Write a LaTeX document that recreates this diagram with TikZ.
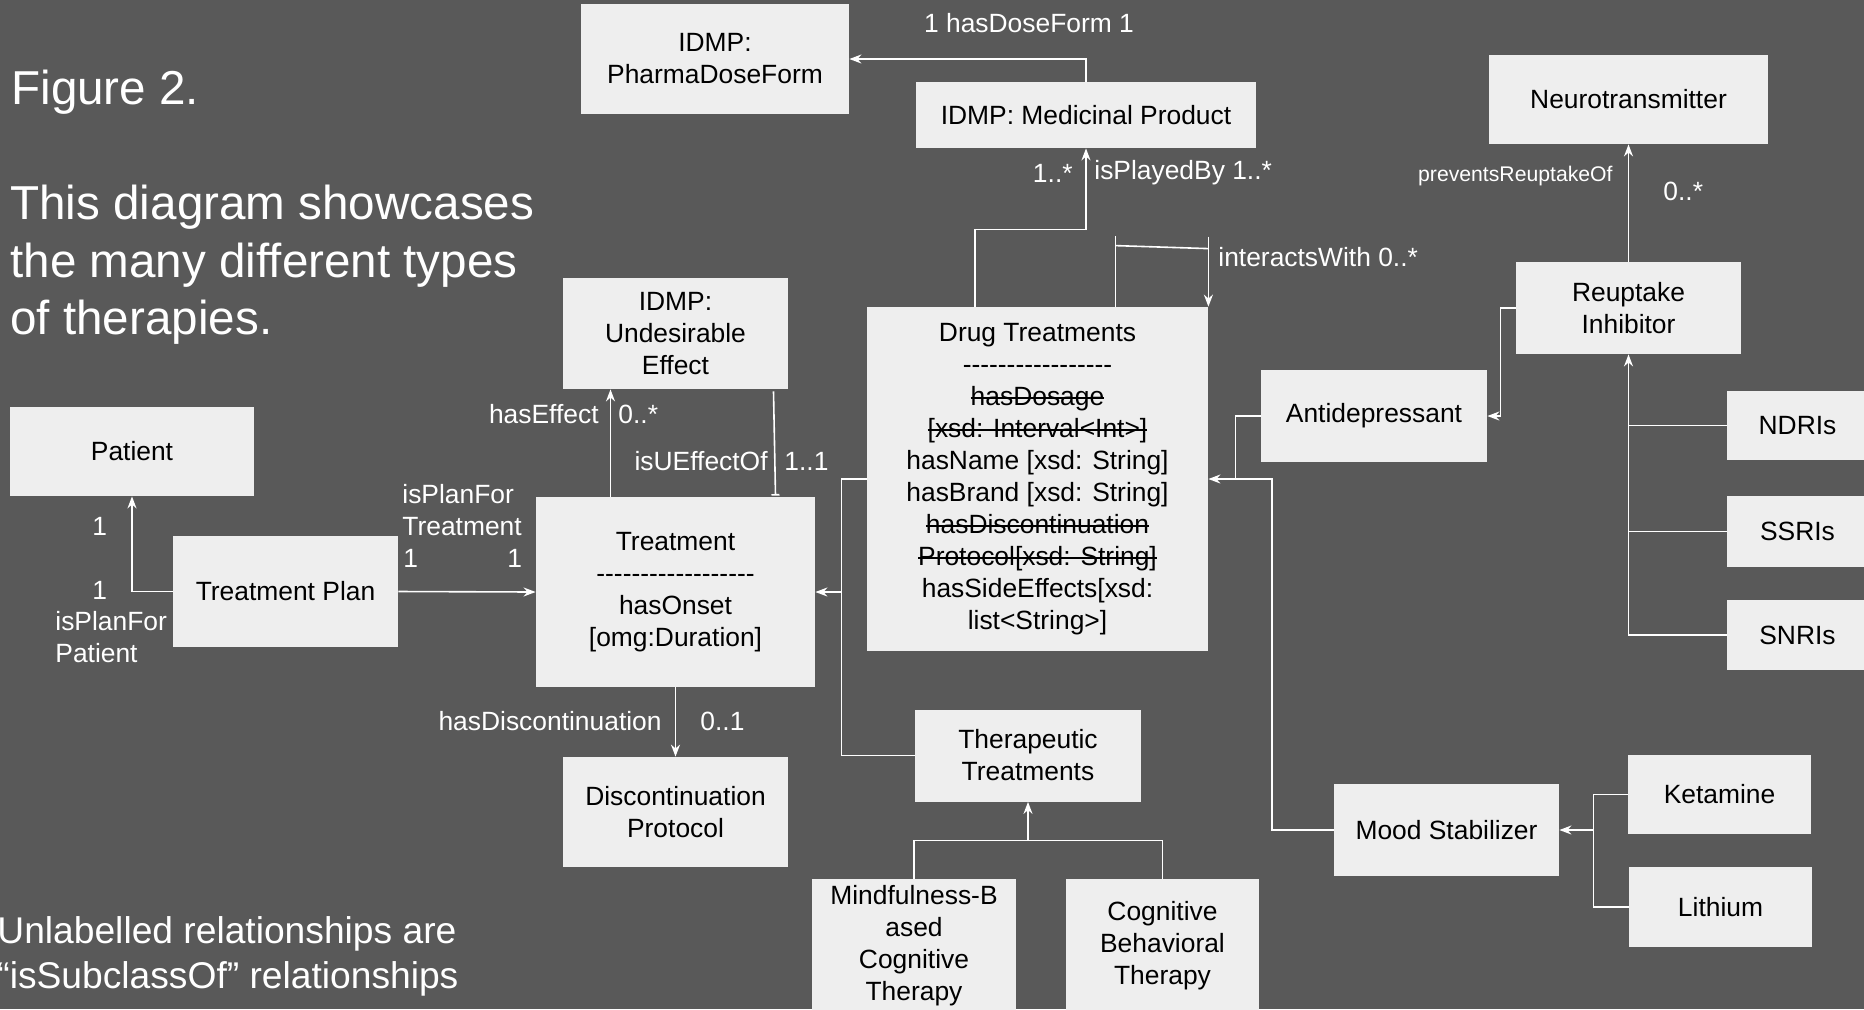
\documentclass[tikz,border=0pt]{standalone}
\usepackage{fontspec}
\setmainfont{Liberation Sans}[Ligatures=TeXOff]
\usetikzlibrary{arrows.meta,calc}
\definecolor{bggray}{HTML}{595959}
\definecolor{boxgray}{HTML}{EEEEEE}
\newcommand{\boxfont}{\fontsize{13.2}{16}\selectfont}
\newcommand{\smallfont}{\fontsize{10.6}{12}\selectfont}
\newcommand{\bigfont}{\fontsize{23.8}{28.75}\selectfont}
\newcommand{\notefont}{\fontsize{18.6}{22.5}\selectfont}
\newcommand{\strike}[1]{\setbox0\hbox{#1}\rlap{\rule[0.25em]{\wd0}{0.9pt}}\box0}
\tikzset{
  >={Stealth[length=6pt,width=4.5pt]},
}
\tikzstyle{umlbox}=[fill=boxgray,text=black,align=center,inner sep=0pt]
\tikzstyle{rel}=[text=white,inner sep=0pt]
\tikzstyle{wire}=[white,line width=0.8pt]
\tikzstyle{assoc}=[wire,->]
\tikzstyle{every node}=[font=\boxfont]

\begin{document}
\begin{tikzpicture}[x=0.5pt,y=-0.5pt]
    \clip (0,0) rectangle (1864,1009);
    \fill[bggray] (0,0) rectangle (1864,1009);

    % free text
    \node[rel,anchor=west,font=\bigfont] (title) at (11,92) {Figure 2.};
    \node[rel,anchor=west,align=left,font=\bigfont] (intro) at (10,265)
    {This diagram showcases\\the many different types\\of therapies.};
    \node[rel,anchor=west,align=left,font=\notefont] (note) at (-3,956)
    {Unlabelled relationships are\\“isSubclassOf” relationships};

    % classes
    \node[umlbox,minimum width=134pt,minimum height=55pt] (pdf) at (715,59) {IDMP:\\PharmaDoseForm};
    \node[umlbox,minimum width=170pt,minimum height=33pt] (mp) at (1086,115) {IDMP: Medicinal Product};
    \node[umlbox,minimum width=139.5pt,minimum height=44.5pt] (nt) at (1628.5,99.5) {Neurotransmitter};
    \node[umlbox,minimum width=112.5pt,minimum height=46pt] (ri) at (1628.5,308) {Reuptake\\Inhibitor};
    \node[umlbox,minimum width=113pt,minimum height=46pt] (ad) at (1374,416) {Antidepressant};
    \node[umlbox,minimum width=70.5pt,minimum height=34.5pt] (ndri) at (1797.5,425.5) {NDRIs};
    \node[umlbox,minimum width=70.5pt,minimum height=35.5pt] (ssri) at (1797.5,531.5) {SSRIs};
    \node[umlbox,minimum width=70.5pt,minimum height=35pt] (snri) at (1797.5,635) {SNRIs};
    \node[umlbox,minimum width=170.5pt,minimum height=172pt] (dt) at (1037.5,479)
    {Drug Treatments\\-----------------\\\strike{hasDosage}\\\strike{[xsd: Interval<Int>]}\\
    hasName [xsd: String]\\hasBrand [xsd: String]\\\strike{hasDiscontinuation}\\
    \strike{Protocol[xsd: String]}\\hasSideEffects[xsd:\\list<String>]};
    \node[umlbox,minimum width=112.5pt,minimum height=55.5pt] (ue) at (675.5,333.5) {IDMP:\\Undesirable\\Effect};
    \node[umlbox,minimum width=122pt,minimum height=44.5pt] (pat) at (132,451.5) {Patient};
    \node[umlbox,minimum width=112.5pt,minimum height=55.5pt] (tp) at (285.5,591.5) {Treatment Plan};
    \node[umlbox,minimum width=139.5pt,minimum height=95pt] (tr) at (675.5,592)
    {Treatment\\------------------\\hasOnset\\{}[omg:Duration]};
    \node[umlbox,minimum width=112.5pt,minimum height=55pt] (dp) at (675.5,812) {Discontinuation\\Protocol};
    \node[umlbox,minimum width=113pt,minimum height=46pt] (tt) at (1028,755.5) {Therapeutic\\Treatments};
    \node[umlbox,minimum width=112.5pt,minimum height=46pt] (ms) at (1446.5,830) {Mood Stabilizer};
    \node[umlbox,minimum width=91.5pt,minimum height=39.5pt] (ket) at (1719.5,794.5) {Ketamine};
    \node[umlbox,minimum width=91.5pt,minimum height=40pt] (lith) at (1720.5,907) {Lithium};
    \node[umlbox,minimum width=102pt,minimum height=67pt] (mbct) at (914,946)
    {Mindfulness-B\\ased\\Cognitive\\Therapy};
    \node[umlbox,minimum width=96.5pt,minimum height=67pt] (cbt) at (1162.5,946)
    {Cognitive\\Behavioral\\Therapy};

    % associations
    \draw[assoc] (mp.north) |- (pdf.east);
    \node[rel] (lDose) at (1029,23) {1 hasDoseForm 1};

    \draw[assoc] ($(dt.north)+(-62.5,0)$) -- ++(0,-77) -| (mp.south);
    \node[rel,anchor=east] (lPlayA) at (1073,173) {1..*};
    \node[rel,anchor=west] (lPlayB) at (1094,173) {isPlayedBy 1..*};

    \draw[wire] ($(dt.north)+(78,0)$) -- ++(0,-71);
    \draw[wire] ($(dt.north)+(78,-61)$) -- ($(dt.north east)+(0,-58)$);
    \draw[assoc] ($(dt.north east)+(0,-70)$) -- (dt.north east);
    \node[rel,anchor=west] (lInter) at (1218,257) {interactsWith 0..*};

    \draw[assoc] (ri.north) -- (nt.south);
    \node[rel,anchor=east,font=\smallfont] (lPrev) at (1613,176) {preventsReuptakeOf};
    \node[rel,anchor=west] (lPrevM) at (1663,191) {0..*};

    \draw[assoc] ($(tr.north)+(-65,0)$) -- ($(ue.south)+(-65,0)$);
    \node[rel,anchor=east] (lEff) at (599,414) {hasEffect};
    \node[rel,anchor=west] (lEffM) at (618,414) {0..*};
    \draw[wire,-{Bar[width=4pt]}] ($(ue.south)+(98,2)$) -- ($(tr.north)+(100,-1)$);
    \node[rel,anchor=east] (lUE) at (768,461) {isUEffectOf};
    \node[rel,anchor=west] (lUEM) at (784,461) {1..1};

    \draw[assoc] (tp.west) -| (pat.south);
    \node[rel,anchor=west] (lPatA) at (92,526) {1};
    \node[rel,anchor=west] (lPatB) at (92,590) {1};
    \node[rel,anchor=west,align=left] (lPlanP) at (55,637) {isPlanFor\\Patient};

    \draw[assoc] (tp.east) -- (tr.west);
    \node[rel,anchor=west,align=left] (lPlanT) at (402,510) {isPlanFor\\Treatment};
    \node[rel,anchor=west] (lPlanTA) at (403,558) {1};
    \node[rel,anchor=west] (lPlanTB) at (507,558) {1};

    \draw[assoc] (tr.south) -- (dp.north);
    \node[rel,anchor=east] (lDisc) at (662,721) {hasDiscontinuation};
    \node[rel,anchor=west] (lDiscM) at (700,721) {0..1};

    % subclasses
    \draw[assoc] (dt.west) -- ++(-25,0) |- (tr.east);
    \draw[wire] (tt.west) -| ($(dt.west)+(-25,0)$);
    \draw[assoc] (ad.west) -- ++(-25,0) |- (dt.east);
    \draw[wire] (ms.west) -| ($(dt.east)+(63.5,0)$) -- ($(dt.east)+(28,0)$);
    \draw[assoc] (ri.west) -- ++(-15,0) |- (ad.east);
    \draw[assoc] (snri.west) -| (ri.south);
    \draw[wire] (ssri.west) -- (ssri.west -| ri.south);
    \draw[wire] (ndri.west) -- (ndri.west -| ri.south);
    \draw[assoc] (ket.west) -- ++(-34,0) |- (ms.east);
    \draw[wire] (lith.west) -| ($(ket.west)+(-34,0)$);
    \draw[wire] (mbct.north) -- ++(0,-38) -| (cbt.north);
    \draw[assoc] ($(tt.south)+(0,38.5)$) -- (tt.south);
\end{tikzpicture}
\end{document}
